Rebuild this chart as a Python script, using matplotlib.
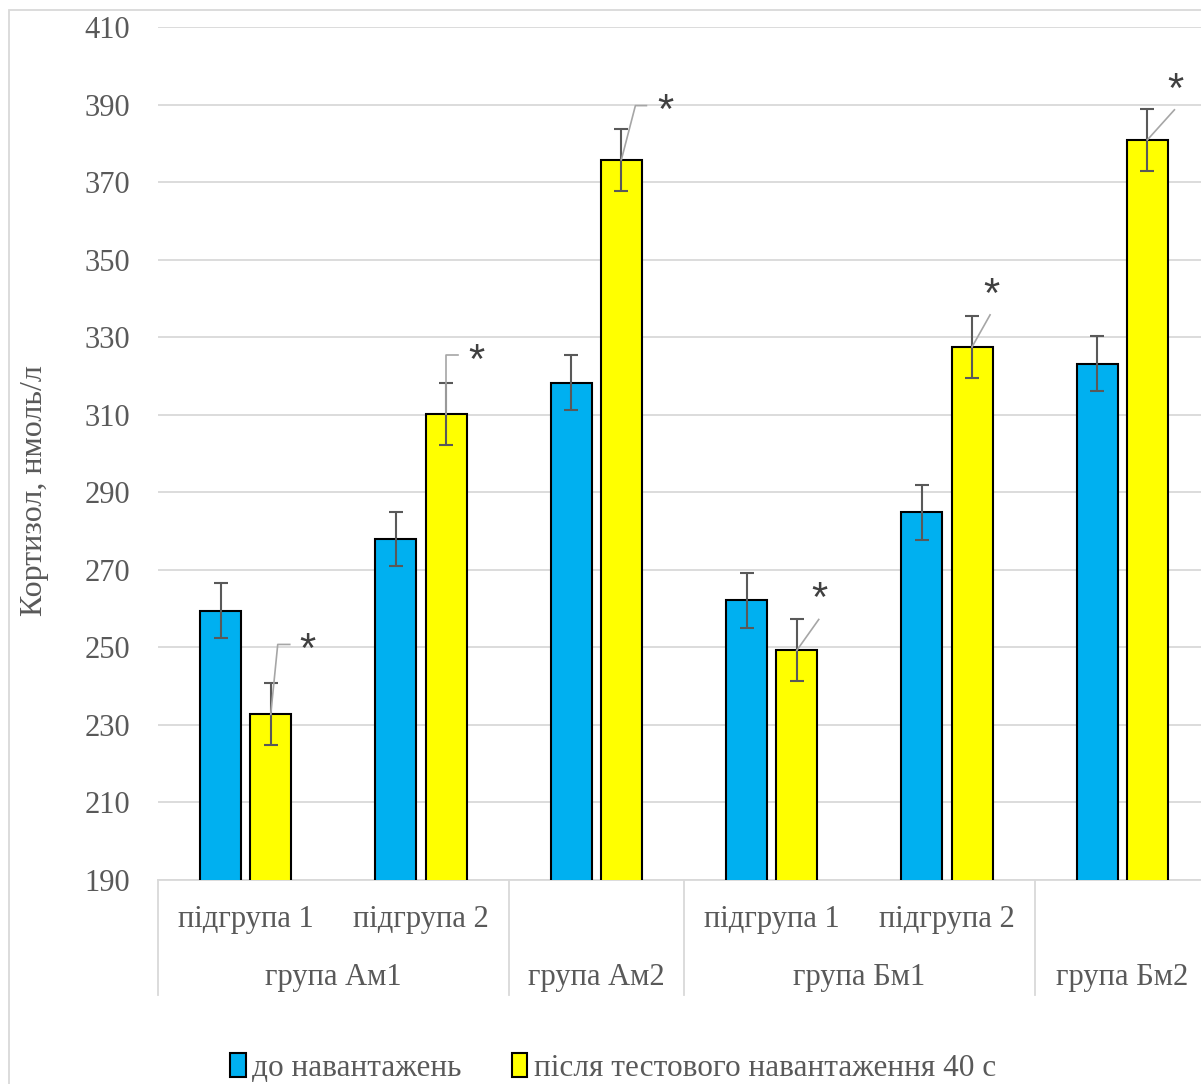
import matplotlib.pyplot as plt
import matplotlib.transforms as mtransforms
from matplotlib.patches import Patch, Rectangle
import numpy as np

plt.rcParams['font.family'] = ['Liberation Serif', 'DejaVu Serif']

# data
sub_labels = ['підгрупа 1', 'підгрупа 2', '', 'підгрупа 1', 'підгрупа 2', '']
group_labels = ['група Ам1', 'група Ам2', 'група Бм1', 'група Бм2']
group_spans = [(0, 1), (2, 2), (3, 4), (5, 5)]
before = [259.5, 278.0, 318.3, 262.1, 284.8, 323.2]
after = [232.7, 310.2, 375.8, 249.2, 327.5, 380.9]
before_err = [7, 7, 7, 7, 7, 7]
after_err = [8, 8, 8, 8, 8, 8]
series_names = ['до навантажень', 'після тестового навантаження 40 с']

# leader lines (pixel offsets from bar top) and star offsets
leaders = [
    [(0, 0), (7, 70), (19, 70)],
    [(0, 0), (0, 59), (12, 59)],
    [(0, 0), (14, 54), (25, 54)],
    [(0, 0), (22, 31)],
    [(0, 0), (18, 32)],
    [(0, 0), (27, 30)],
]
star_off = [(37, 73), (30, 62), (44, 58), (23, 60), (19, 61), (28, 59)]

W, H = 1201, 1084
fig = plt.figure(figsize=(W / 100, H / 100), dpi=100)
ax = fig.add_axes([158 / W, 1 - 880 / H, 1052 / W, 853 / H])

x = np.arange(len(sub_labels))
bw = 0.234
off = 0.143
blue = '#00b0f0'
yellow = '#ffff00'
ax.bar(x - off, before, bw, color=blue, edgecolor='black', linewidth=1.5, zorder=3)
ax.bar(x + off, after, bw, color=yellow, edgecolor='black', linewidth=1.5, zorder=3)
ax.errorbar(x - off, before, yerr=before_err, fmt='none', ecolor='#595959',
            elinewidth=1.5, capsize=5, capthick=1.5, zorder=4)
ax.errorbar(x + off, after, yerr=after_err, fmt='none', ecolor='#595959',
            elinewidth=1.5, capsize=5, capthick=1.5, zorder=4)

ax.set_xlim(-0.5, 5.5)
ax.set_ylim(190, 410)
ax.set_yticks(np.arange(190, 411, 20))
ax.yaxis.grid(True, color='#d9d9d9', linewidth=1.3, zorder=0)
ax.set_axisbelow(True)
for s in ['top', 'right', 'left']:
    ax.spines[s].set_visible(False)
ax.spines['bottom'].set_color('#d9d9d9')
ax.spines['bottom'].set_linewidth(1.3)
ax.tick_params(axis='y', length=0, pad=20, labelsize=22, labelcolor='#595959')
ax.set_xticks([])

# asterisks with leader lines
for i in range(len(after)):
    pts = leaders[i]
    xs, ys = [], []
    base = ax.transData.transform((x[i] + off, after[i]))
    for dx, dy in pts:
        xs.append(base[0] + dx)
        ys.append(base[1] + dy)
    ax.plot(xs, ys, color='#a6a6a6', linewidth=1.2, transform=mtransforms.IdentityTransform(),
            clip_on=False, zorder=5)
    tr = mtransforms.offset_copy(ax.transData, fig=fig, x=star_off[i][0], y=star_off[i][1] - 10,
                                 units='dots')
    ax.text(x[i] + off, after[i], '*', transform=tr, ha='center', va='center',
            fontsize=30, color='#404040', family='Liberation Sans', zorder=6)

# multi-level category axis
trans = ax.get_xaxis_transform()
y_sep = -(995 - 880) / 853
for xb in [-0.5, 1.5, 2.5, 4.5, 5.5]:
    ax.plot([xb, xb], [0, y_sep], color='#d9d9d9', linewidth=1.3, transform=trans, clip_on=False)
y_sub = -(920 - 880) / 853
y_grp = -(977 - 880) / 853
for i, lab in enumerate(sub_labels):
    if lab:
        ax.text(x[i], y_sub, lab, transform=trans, ha='center', va='center', fontsize=22, color='#595959')
for lab, (a, b) in zip(group_labels, group_spans):
    ax.text((a + b) / 2, y_grp, lab, transform=trans, ha='center', va='center', fontsize=22, color='#595959')

fig.text(35 / W, 1 - 491 / H, 'Кортизол, нмоль/л', rotation=90, ha='center', va='center',
         fontsize=23, color='#595959')

# outer chart border
fig.patches.append(Rectangle((9 / W, -0.2), 1.2, 1.2 - 10 / H, fill=False, edgecolor='#d9d9d9',
                             linewidth=1.3, transform=fig.transFigure, figure=fig))

handles = [Patch(facecolor=blue, edgecolor='black', linewidth=1.5),
           Patch(facecolor=yellow, edgecolor='black', linewidth=1.5)]
fig.legend(handles, series_names, loc='center', bbox_to_anchor=(613 / W, 1 - 1068 / H), ncol=2,
           frameon=False, fontsize=22.5, handlelength=0.5, handleheight=0.8, handletextpad=0.2,
           columnspacing=1.6, labelcolor='#595959')

fig.savefig('out.png', dpi=100)
